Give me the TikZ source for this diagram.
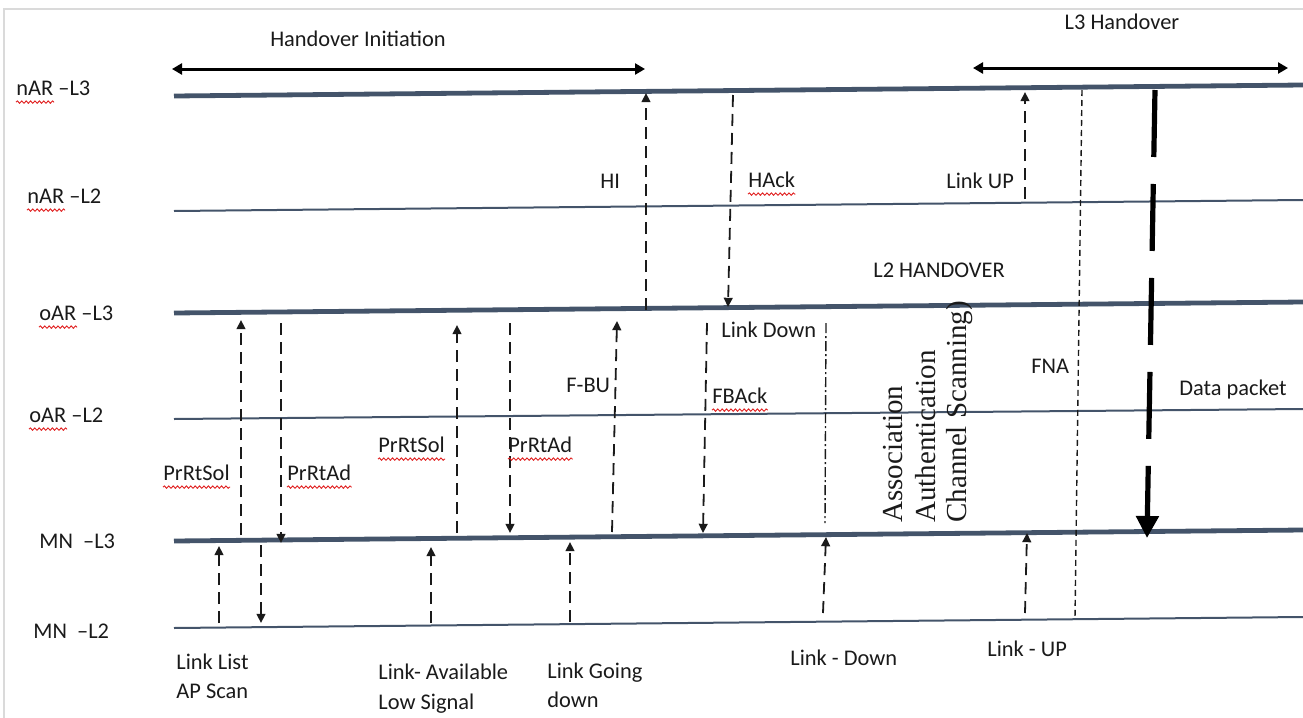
\documentclass[tikz,border=0pt]{standalone}
\usepackage{fontspec}
\setmainfont{Carlito}
\newfontfamily\rotfont{Liberation Serif}
\usepackage{xcolor}
\usepackage{tikz}
\usetikzlibrary{calc,arrows.meta,decorations.pathmorphing}
\definecolor{lane}{HTML}{44546A}
\definecolor{ink}{HTML}{1A1A1A}
\definecolor{edge}{HTML}{DADADA}
\definecolor{squig}{HTML}{E02020}
\tikzset{
  life/.style={draw=lane, line width=2.4pt},
  lifethin/.style={draw=lane, line width=1pt},
  msg/.style={draw=ink, line width=0.9pt, dash pattern=on 6pt off 3.5pt, -{Triangle[length=4.6pt,width=4.4pt]}},
  guide/.style={draw=ink, line width=0.7pt, dash pattern=on 3pt off 2pt},
  dashdot/.style={draw=ink, line width=0.7pt, dash pattern=on 5pt off 1.5pt on 1pt off 1.5pt},
  datapk/.style={draw=black, line width=2.6pt, dash pattern=on 33.5pt off 13.5pt, -{Triangle[length=11pt,width=11pt]}},
  period/.style={draw=black, line width=1.5pt, {Triangle[length=5pt,width=5.5pt]}-{Triangle[length=5pt,width=5.5pt]}},
  lab/.style={text=ink, font=\fontsize{11.2}{14}\selectfont, inner sep=0pt, text height=7.5pt, text depth=2.2pt, anchor=west},
  vlab/.style={text=ink, font=\rotfont\fontsize{14.5}{16}\selectfont, inner sep=0pt, text height=9.5pt, text depth=3pt, rotate=90, anchor=west},
  spell/.style={draw=squig, line width=0.45pt, decorate, decoration={snake, amplitude=0.6pt, segment length=2.2pt}},
}

\begin{document}
\begin{tikzpicture}[x=0.5pt, y=-0.5pt]
\useasboundingbox (0,0) rectangle (1303,718);
\draw[edge, line width=1pt] (4,718) -- (4,9) -- (1303,9);

% lifelines
\coordinate (nl3a) at (174,96);  \coordinate (nl3b) at (1303,85);
\coordinate (nl2a) at (174,211); \coordinate (nl2b) at (1303,200);
\coordinate (ol3a) at (174,313); \coordinate (ol3b) at (1303,302);
\coordinate (ol2a) at (174,419); \coordinate (ol2b) at (1303,409);
\coordinate (ml3a) at (174,541); \coordinate (ml3b) at (1303,530);
\coordinate (ml2a) at (174,628); \coordinate (ml2b) at (1303,617);
\draw[life] (nl3a) -- (nl3b);
\draw[lifethin] (nl2a) -- (nl2b);
\draw[life] (ol3a) -- (ol3b);
\draw[lifethin] (ol2a) -- (ol2b);
\draw[life] (ml3a) -- (ml3b);
\draw[lifethin] (ml2a) -- (ml2b);

\node[lab] (nl3) at (16,90) {nAR –L3};
\node[lab] (nl2) at (27,198) {nAR –L2};
\node[lab] (ol3) at (39,315) {oAR –L3};
\node[lab] (ol2) at (29,417) {oAR –L2};
\node[lab] (ml3) at (39,543) {MN\ \ –L3};
\node[lab] (ml2) at (33,633) {MN\ \ –L2};
\foreach \n in {nl3,nl2,ol3,ol2}
  \draw[spell] ([yshift=-1pt]\n.south west) -- ++(38,0);

% phases
\coordinate (iniA) at (172,69);  \coordinate (iniB) at (645,69);
\coordinate (l3hA) at (973,68);  \coordinate (l3hB) at (1288,68);
\draw[period] (iniA) -- (iniB);
\draw[period] (l3hA) -- (l3hB);
\node[lab, anchor=center] (ini) at (358,41) {Handover Initiation};
\node[lab, anchor=center] (l3h) at (1122,24) {L3 Handover};

% nAR side
\coordinate (hi-a) at (646,310);   \coordinate (hi-b) at (646,93);
\coordinate (hack-a) at (733,95);  \coordinate (hack-b) at (728,307);
\coordinate (lup-a) at (1025,199); \coordinate (lup-b) at (1025,92);
\coordinate (fna-a) at (1082,90);  \coordinate (fna-b) at (1075,618);
\coordinate (dp-a) at (1155,90);   \coordinate (dp-b) at (1147,538);
\draw[msg] (hi-a) -- (hi-b);
\draw[msg] (hack-a) -- (hack-b);
\draw[msg] (lup-a) -- (lup-b);
\draw[guide] (fna-a) -- (fna-b);
\draw[datapk] (dp-a) -- (dp-b);
\node[lab] (hi) at (600,183) {HI};
\node[lab] (hack) at (748,182) {HAck};
\node[lab] (lup) at (946,183) {Link UP};
\node[lab] (l2h) at (873,272) {L2 HANDOVER};
\node[lab] (fna) at (1031,368) {FNA};
\node[lab] (dp) at (1179,390) {Data packet};

% oAR side
\coordinate (sol1-a) at (241,535); \coordinate (sol1-b) at (241,320);
\coordinate (ad1-a) at (281,323);  \coordinate (ad1-b) at (281,543);
\coordinate (sol2-a) at (457,533); \coordinate (sol2-b) at (457,325);
\coordinate (ad2-a) at (510,323);  \coordinate (ad2-b) at (510,533);
\coordinate (fbu-a) at (612,532);  \coordinate (fbu-b) at (617,321);
\coordinate (fba-a) at (707,323);  \coordinate (fba-b) at (703,533);
\coordinate (ldn-a) at (826,323);  \coordinate (ldn-b) at (825,523);
\draw[msg] (sol1-a) -- (sol1-b);
\draw[msg] (ad1-a) -- (ad1-b);
\draw[msg] (sol2-a) -- (sol2-b);
\draw[msg] (ad2-a) -- (ad2-b);
\draw[msg] (fbu-a) -- (fbu-b);
\draw[msg] (fba-a) -- (fba-b);
\draw[dashdot] (ldn-a) -- (ldn-b);
\node[lab] (sol1) at (163,475) {PrRtSol};
\node[lab] (ad1) at (287,475) {PrRtAd};
\node[lab] (sol2) at (378,447) {PrRtSol};
\node[lab] (ad2) at (508,447) {PrRtAd};
\node[lab] (fbu) at (566,387) {F-BU};
\node[lab] (ldn) at (721,332) {Link Down};
\node[lab] (fba) at (712,398) {FBAck};
\foreach \n in {sol1,ad1,sol2,ad2,hack,fba}
  \draw[spell] ([yshift=-1pt]\n.south west) -- ([yshift=-1pt]\n.south east);

\node[vlab] (assoc) at (896,523) {Association};
\node[vlab] (authn) at (929,523) {Authentication};
\node[vlab] (chscan) at (960,523) {Channel Scanning)};

% MN side
\coordinate (ll-a) at (219,623);  \coordinate (ll-b) at (219,546);
\coordinate (aps-a) at (261,545); \coordinate (aps-b) at (261,623);
\coordinate (lav-a) at (431,623); \coordinate (lav-b) at (431,547);
\coordinate (lgd-a) at (570,622); \coordinate (lgd-b) at (570,542);
\coordinate (mld-a) at (823,613); \coordinate (mld-b) at (826,537);
\coordinate (mlu-a) at (1025,613); \coordinate (mlu-b) at (1027,533);
\draw[msg] (ll-a) -- (ll-b);
\draw[msg] (aps-a) -- (aps-b);
\draw[msg] (lav-a) -- (lav-b);
\draw[msg] (lgd-a) -- (lgd-b);
\draw[msg] (mld-a) -- (mld-b);
\draw[msg] (mlu-a) -- (mlu-b);
\node[lab] (ll) at (176,664) {Link List};
\node[lab] (aps) at (176,693) {AP Scan};
\node[lab] (lav) at (378,674) {Link- Available};
\node[lab] (lsig) at (378,704) {Low Signal};
\node[lab] (lgd) at (547,673) {Link Going};
\node[lab] (lgd2) at (547,702) {down};
\node[lab] (mld) at (790,660) {Link - Down};
\node[lab] (mlu) at (987,651) {Link - UP};
\end{tikzpicture}
\end{document}
